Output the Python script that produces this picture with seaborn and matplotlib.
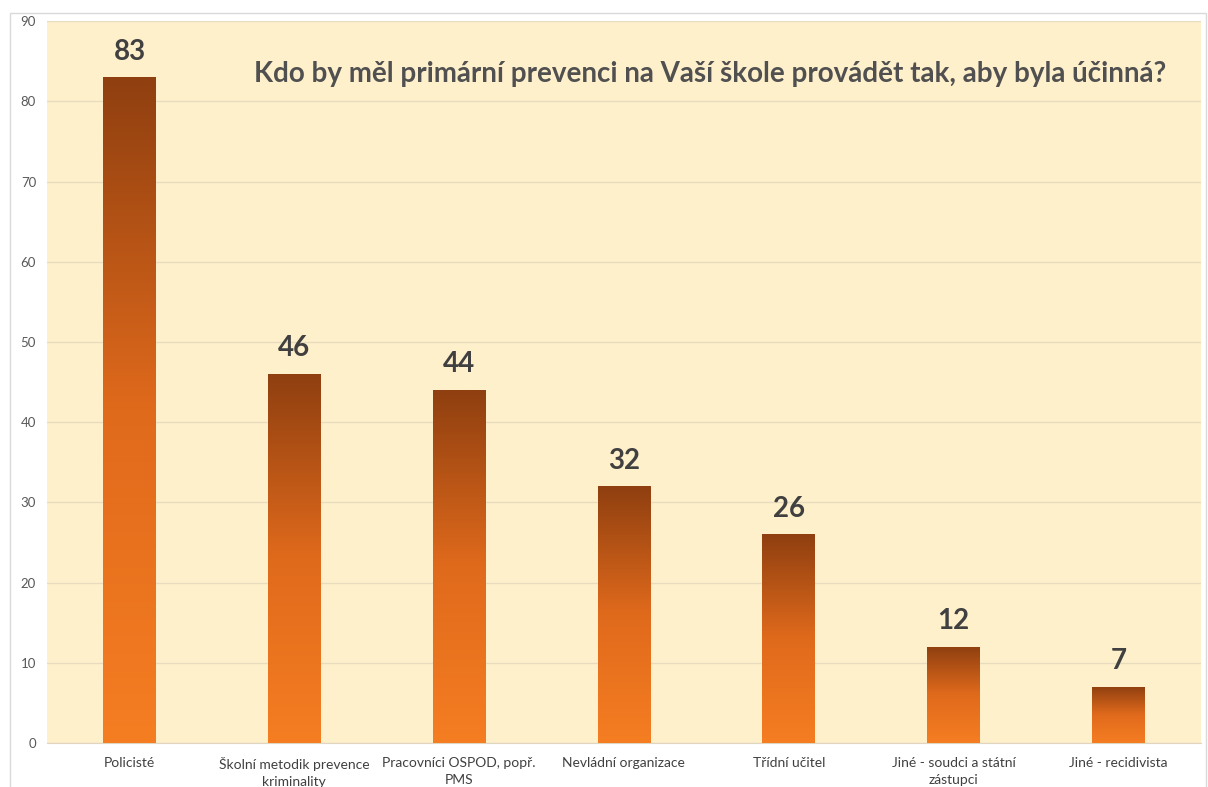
import numpy as np
import pandas as pd
import matplotlib
matplotlib.use('Agg')
import matplotlib.pyplot as plt
import seaborn as sns
from matplotlib.colors import LinearSegmentedColormap
from matplotlib.patches import Rectangle

# data
categories = ['Policisté', 'Školní metodik prevence\nkriminality', 'Pracovníci OSPOD, popř.\nPMS',
              'Nevládní organizace', 'Třídní učitel', 'Jiné - soudci a státní\nzástupci', 'Jiné - recidivista']
values = [83, 46, 44, 32, 26, 12, 7]
title = 'Kdo by měl primární prevenci na Vaší škole provádět tak, aby byla účinná?'

df = pd.DataFrame({'kategorie': categories, 'pocet': values})

sns.set_style('white')
plt.rcParams['font.family'] = ['Lato', 'DejaVu Sans']

fig = plt.figure(figsize=(12.08, 7.87), dpi=100)
ax = fig.add_axes([0.039, 0.056, 0.955, 0.917])

# outer chart border
fig.patches.append(Rectangle((0.008, -0.01), 0.99, 0.994, transform=fig.transFigure,
                             fill=False, edgecolor='#d9d9d9', linewidth=1))

ax.set_facecolor('#fff0cc')
sns.barplot(data=df, x='kategorie', y='pocet', width=0.32, color='#d96a1c', ax=ax, zorder=3)

ax.set_ylim(0, 90)
ax.set_yticks(range(0, 91, 10))
ax.yaxis.grid(True, color='#e8dcbf', linewidth=1, zorder=0)
ax.set_axisbelow(True)
for s in ['top', 'right', 'left']:
    ax.spines[s].set_visible(False)
ax.spines['bottom'].set_color('#e0d6c0')
ax.tick_params(axis='y', length=0, labelsize=9.5, colors='#595959', pad=8)
ax.tick_params(axis='x', length=0, labelsize=10, colors='#404040', pad=10)
for lbl in ax.get_xticklabels():
    lbl.set_linespacing(1.5)
ax.set_xlabel('')
ax.set_ylabel('')

# gradient fill: dark brown on top, orange at bottom
cmap = LinearSegmentedColormap.from_list('grad', ['#f57d22', '#e06a1c', '#8f3f10'])
grad = np.linspace(0, 1, 256).reshape(-1, 1)
for bar in ax.patches:
    x0, y0 = bar.get_x(), bar.get_y()
    w, h = bar.get_width(), bar.get_height()
    bar.set_facecolor('none')
    bar.set_edgecolor('none')
    im = ax.imshow(grad, extent=[x0, x0 + w, y0, y0 + h], origin='lower', cmap=cmap,
                   aspect='auto', zorder=3)
    im.set_clip_path(bar)
    ax.text(x0 + w / 2, h + 1.6, str(int(h)), ha='center', va='bottom',
            fontsize=20, fontweight='bold', color='#404040', zorder=4)

ax.set_xlim(-0.5, len(categories) - 0.5)
ax.set_ylim(0, 90)

ax.text(0.97, 0.927, title, transform=ax.transAxes, ha='right', va='center',
        fontsize=20, fontweight='bold', color='#505050')

fig.savefig('out.png', dpi=100)
